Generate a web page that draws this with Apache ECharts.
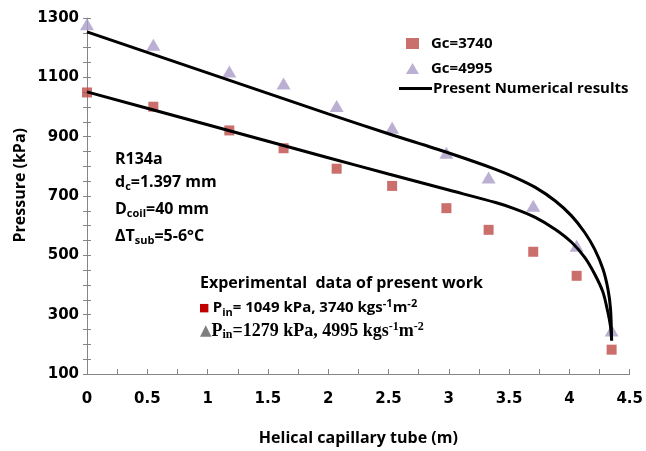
<!DOCTYPE html>
<html>
<head>
<meta charset="utf-8">
<script src="https://cdn.jsdelivr.net/npm/echarts@6/dist/echarts.min.js"></script>
<style>
  html, body { margin: 0; padding: 0; background: #fff; }
  #chart { width: 646px; height: 451px; }
</style>
</head>
<body>
<div id="chart"></div>
<script>
// experimental points, tube length (m)
const posX = [0, 0.55, 1.18, 1.63, 2.07, 2.53, 2.98, 3.33, 3.7, 4.06, 4.35];
const gc3740 = [1049, 1001, 921, 861, 792, 734, 659, 586, 512, 431, 182];
const gc4995 = [1279, 1210, 1120, 1079, 1003, 930, 846, 762, 667, 532, 247];

// numerical results
const upperX = [0, 1, 2, 2.5, 3, 3.388, 3.553, 3.717, 3.881, 4.018, 4.127, 4.209, 4.278, 4.319, 4.341, 4.35];
const upperP = [1253, 1115, 977, 910, 845, 790, 762, 729, 684, 633, 577, 521, 454, 387, 319, 213];
const lowerX = [0, 1, 2, 2.5, 3, 3.388, 3.553, 3.717, 3.881, 4.018, 4.127, 4.209, 4.278, 4.319, 4.341, 4.35];
const lowerP = [1051, 940, 829, 774, 720, 678, 656, 628, 588, 544, 493, 437, 376, 308, 260, 213];

const zip = (xs, ys) => xs.map((x, i) => [x, ys[i]]);

const FONT = "'Open Sans', sans-serif";
const NUMFONT = "'DejaVu Sans', sans-serif";
const SERIF = "'Liberation Serif', serif";
const axisGray = "#868686";

const rich = {
  a: { fontFamily: FONT, fontWeight: "bold", fontSize: 15, lineHeight: 20, fill: "#000" },
  b: { fontFamily: FONT, fontWeight: "bold", fontSize: 16, lineHeight: 20, fill: "#000" },
  sub: { fontFamily: FONT, fontWeight: "bold", fontSize: 11, lineHeight: 9, verticalAlign: "bottom", fill: "#000" },
  sup: { fontFamily: FONT, fontWeight: "bold", fontSize: 11, lineHeight: 6, verticalAlign: "top", fill: "#000" },
  t: { fontFamily: SERIF, fontWeight: "bold", fontSize: 18, lineHeight: 20, fill: "#000" },
  tsub: { fontFamily: SERIF, fontWeight: "bold", fontSize: 12, lineHeight: 9, verticalAlign: "bottom", fill: "#000" },
  tsup: { fontFamily: SERIF, fontWeight: "bold", fontSize: 12, lineHeight: 6, verticalAlign: "top", fill: "#000" },
  sq: { fontFamily: NUMFONT, fontSize: 11, lineHeight: 20, fill: "#c00000" },
  tri: { fontFamily: NUMFONT, fontSize: 15, lineHeight: 20, fill: "#7f7f7f" }
};

function note(x, y, text) {
  return {
    type: "text",
    left: x,
    top: y - 10,
    style: { text: text, rich: rich, verticalAlign: "top" }
  };
}

const chart = echarts.init(document.getElementById("chart"));
chart.setOption({
  animation: false,
  grid: { left: 87, right: 11, top: 18, bottom: 76, containLabel: false },
  legend: [
    {
      data: ["Gc=3740", "Gc=4995"],
      orient: "vertical",
      left: 401,
      top: 31,
      itemWidth: 13,
      itemHeight: 11,
      itemGap: 10,
      textStyle: { fontFamily: FONT, fontWeight: "bold", fontSize: 15, color: "#000", padding: [0, 0, 0, 7] }
    },
    {
      data: [{ name: "Present Numerical results", icon: "rect" }],
      left: 394,
      top: 76,
      itemWidth: 33,
      itemHeight: 3,
      textStyle: { fontFamily: FONT, fontWeight: "bold", fontSize: 15, color: "#000", padding: [0, 0, 0, -4] }
    }
  ],
  xAxis: {
    type: "value",
    min: 0,
    max: 4.5,
    interval: 0.5,
    name: "Helical capillary tube (m)",
    nameLocation: "middle",
    nameGap: 56,
    nameTextStyle: { fontFamily: FONT, fontWeight: "bold", fontSize: 16, color: "#000" },
    axisLine: { lineStyle: { color: axisGray } },
    axisTick: { inside: true, length: 5, lineStyle: { color: axisGray } },
    minorTick: { show: true, splitNumber: 2, length: 5, lineStyle: { color: axisGray } },
    splitLine: { show: false },
    axisLabel: { fontFamily: NUMFONT, fontWeight: "bold", fontSize: 15, color: "#000", margin: 18 }
  },
  yAxis: [
    {
      type: "value",
      min: 100,
      max: 1300,
      interval: 200,
      axisLine: { show: true, lineStyle: { color: axisGray } },
      axisTick: { show: true, length: 4, lineStyle: { color: axisGray } },
      minorTick: { show: true, splitNumber: 4, length: 4, lineStyle: { color: axisGray } },
      splitLine: { show: false },
      axisLabel: {
        fontFamily: NUMFONT, fontWeight: "bold", fontSize: 15, color: "#000", margin: 8,
        formatter: (v) => String(v)
      }
    },
    {
      type: "value",
      min: 100,
      max: 1300,
      interval: 200,
      position: "left",
      axisLine: { show: false },
      axisTick: { show: true, inside: true, length: 4, lineStyle: { color: axisGray } },
      minorTick: { show: true, splitNumber: 4, length: 4, lineStyle: { color: axisGray } },
      splitLine: { show: false },
      axisLabel: { show: false }
    }
  ],
  series: [
    {
      name: "Present Numerical results",
      type: "line",
      data: zip(upperX, upperP),
      smooth: 0.3,
      symbol: "none",
      lineStyle: { color: "#000", width: 3 },
      itemStyle: { color: "#000" },
      z: 3
    },
    {
      name: "Present Numerical results",
      type: "line",
      data: zip(lowerX, lowerP),
      smooth: 0.3,
      symbol: "none",
      lineStyle: { color: "#000", width: 3 },
      itemStyle: { color: "#000" },
      z: 3
    },
    {
      name: "Gc=3740",
      type: "scatter",
      data: zip(posX, gc3740),
      symbol: "rect",
      symbolSize: 10,
      itemStyle: { color: "#be4b48" },
      z: 2
    },
    {
      name: "Gc=4995",
      type: "scatter",
      data: zip(posX, gc4995),
      symbol: "triangle",
      symbolSize: [14, 12],
      itemStyle: { color: "#aa9bc8" },
      z: 2
    }
  ],
  graphic: [
    {
      type: "text",
      left: 12,
      top: 128,
      rotation: Math.PI / 2,
      style: { text: "Pressure (kPa)", fontFamily: FONT, fontWeight: "bold", fontSize: 16, fill: "#000" }
    },
    note(115, 161, "{b|R134a}"),
    note(115, 184, "{b|d}{sub|c}{b|=1.397 mm}"),
    note(115, 211, "{b|D}{sub|coil}{b|=40 mm}"),
    note(115, 238, "{b|ΔT}{sub|sub}{b|=5-6°C}"),
    note(200, 285, "{b|Experimental  data of present work}"),
    note(199, 308, "{sq|■} {a|P}{sub|in}{a|= 1049 kPa, 3740 kgs}{sup|-1}{a|m}{sup|-2}"),
    note(200, 331, "{tri|▲}{t|P}{tsub|in}{t|=1279 kPa, 4995 kgs}{tsup|-1}{t|m}{tsup|-2}")
  ]
});
</script>
</body>
</html>
